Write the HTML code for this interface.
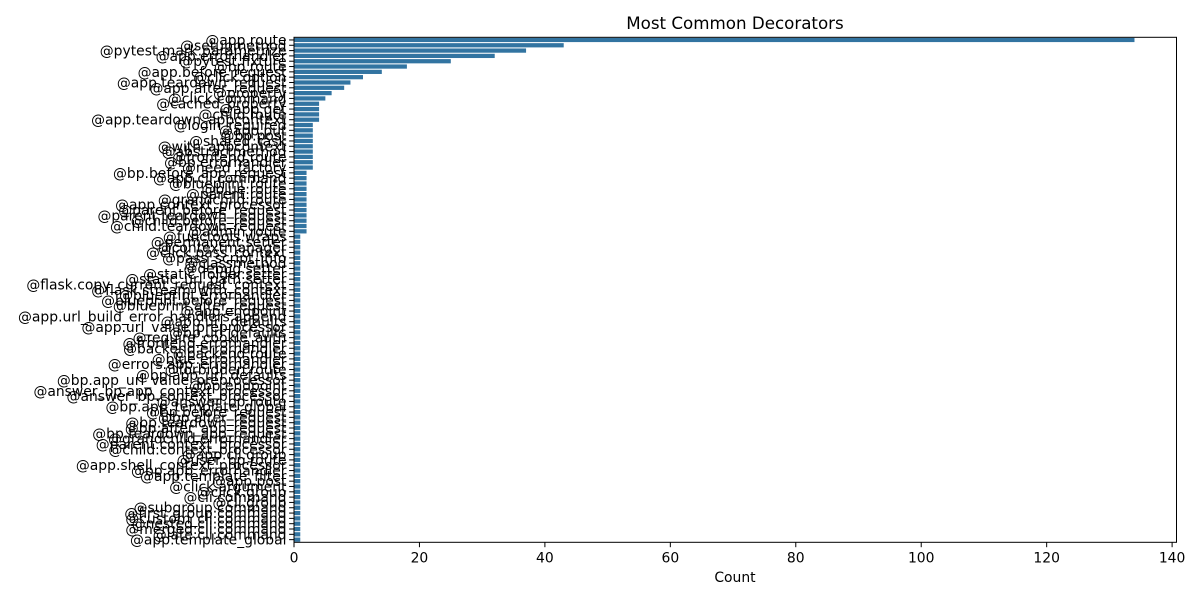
<!DOCTYPE html>
<html><head><meta charset="utf-8"><style>
html,body{margin:0;padding:0;background:#fff;}
svg{display:block;font-family:"DejaVu Sans","Liberation Sans",sans-serif;}
</style></head><body>
<svg id="chart" width="1200" height="600" viewBox="0 0 1200 600">
<rect width="1200" height="600" fill="#fff"/>
<text x="735" y="29" text-anchor="middle" font-size="16.7" fill="#000">Most Common Decorators</text>
<g id="bars"></g>
<g id="yaxis"></g>
<g id="xaxis"></g>
<text x="735" y="582" text-anchor="middle" font-size="13.9" fill="#000">Count</text>
</svg>
<script>
const categories = ["@app.route","@setupmethod","@pytest.mark.parametrize","@app.errorhandler","@pytest.fixture","@bp.route","@app.before_request","@click.option","@app.teardown_request","@app.after_request","@property","@click.command","@cached_property","@app.get","@child.route","@app.teardown_appcontext","@login_required","@app.put","@bp.post","@shared_task","@with_appcontext","@abstractmethod","@frontend.route","@bp.errorhandler","@need_factory","@bp.before_app_request","@app.cli.command","@blueprint.route","@blue.route","@parent.route","@grandchild.route","@app.context_processor","@parent.before_request","@parent.teardown_request","@child.before_request","@child.teardown_request","@admin.route","@functools.wraps","@permanent.setter","@contextmanager","@click.pass_context","@pass_script_info","@classmethod","@debug.setter","@static_folder.setter","@static_url_path.setter","@flask.copy_current_request_context","@flask.stream_with_context","@blueprint.errorhandler","@blueprint.before_request","@blueprint.after_request","@app.endpoint","@app.url_build_error_handlers.append","@app.url_defaults","@app.url_value_preprocessor","@bp.url_defaults","@require_cookie_auth","@frontend.errorhandler","@backend.errorhandler","@backend.route","@blue.errorhandler","@errors.app_errorhandler","@forbidden.route","@bp.app_url_defaults","@bp.app_url_value_preprocessor","@bp.endpoint","@answer_bp.app_context_processor","@answer_bp.context_processor","@answer_bp.route","@bp.app_template_global","@bp.before_request","@bp.after_request","@bp.teardown_request","@bp.after_app_request","@bp.teardown_app_request","@grandchild.errorhandler","@parent.context_processor","@child.context_processor","@app.cli.group","@user_bp.route","@app.shell_context_processor","@bp.app_errorhandler","@app.template_filter","@app.post","@click.argument","@click.group","@cli.command","@cli.group","@subgroup.command","@first_group.command","@custom_cli.command","@nested.cli.command","@merged.cli.command","@late.cli.command","@app.template_global"];
const counts = [134,43,37,32,25,18,14,11,9,8,6,5,4,4,4,4,3,3,3,3,3,3,3,3,3,2,2,2,2,2,2,2,2,2,2,2,2,1,1,1,1,1,1,1,1,1,1,1,1,1,1,1,1,1,1,1,1,1,1,1,1,1,1,1,1,1,1,1,1,1,1,1,1,1,1,1,1,1,1,1,1,1,1,1,1,1,1,1,1,1,1,1,1,1,1];
const xTicks = [0,20,40,60,80,100,120,140];

const NS = "http://www.w3.org/2000/svg";
const L = 294, R = 1176.5, T = 37.3, B = 542.3;
const xMax = 140.7;
function xs(v){ return L + v/xMax*(R-L); }
const n = categories.length;
const step = (B-T)/n;
function yc(i){ return T + (i+0.5)*step; }
function mk(tag, attrs, parent){ const e=document.createElementNS(NS,tag); for(const k in attrs) e.setAttribute(k,attrs[k]); parent.appendChild(e); return e; }

const gb = document.getElementById('bars');
const gy = document.getElementById('yaxis');
const gx = document.getElementById('xaxis');
for(let i=0;i<n;i++){
  const h = step*0.8;
  const r = mk('rect',{x:L,y:yc(i)-h/2,width:xs(counts[i])-L,height:h,fill:'#3274a1'},gb);
  
  
  const tk = mk('line',{x1:L-4.9,x2:L,y1:yc(i),y2:yc(i),stroke:'#000','stroke-width':1},gy);
  
  
  const t = mk('text',{x:L-7.5,y:yc(i)+5,'text-anchor':'end','font-size':13.9,fill:'#000'},gy);
  t.textContent = categories[i];
  
  
}
const frame = mk('rect',{x:L,y:T,width:R-L,height:B-T,fill:'none',stroke:'#000','stroke-width':1},gx);


xTicks.forEach(v=>{
  const tk = mk('line',{x1:xs(v),x2:xs(v),y1:B,y2:B+4.9,stroke:'#000','stroke-width':1},gx);
  
  
  const t = mk('text',{x:xs(v),y:B+20,'text-anchor':'middle','font-size':13.9,fill:'#000'},gx);
  t.textContent = String(v);
  
  
});
</script>
</body></html>
